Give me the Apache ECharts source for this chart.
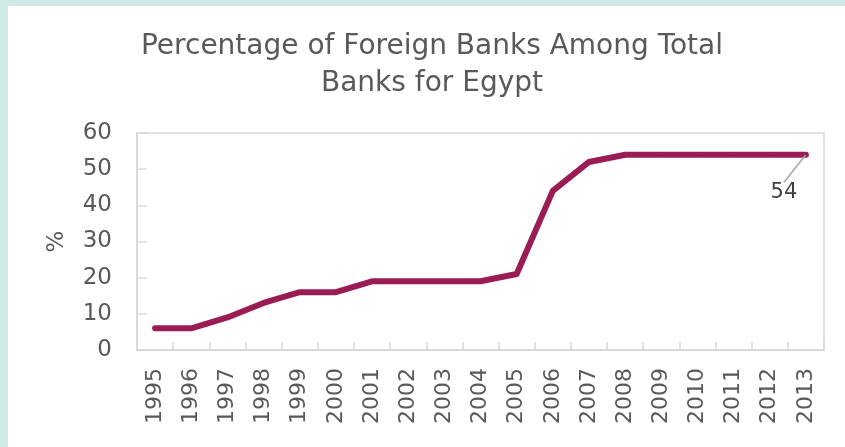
<!DOCTYPE html>
<html>
<head>
<meta charset="utf-8">
<script src="https://cdn.jsdelivr.net/npm/echarts@6/dist/echarts.min.js"></script>
<style>
  html, body { margin: 0; padding: 0; background: #d0eaea; width: 845px; height: 447px; overflow: hidden; }
  #chart { position: absolute; left: 8px; top: 6px; width: 837px; height: 441px; background: #ffffff; }
</style>
</head>
<body>
<div id="chart"></div>
<script>
const titleText = 'Percentage of Foreign Banks Among Total\nBanks for Egypt';
const years = ['1995','1996','1997','1998','1999','2000','2001','2002','2003','2004','2005','2006','2007','2008','2009','2010','2011','2012','2013'];
const foreignBankShare = [6, 6, 9, 13, 16, 16, 19, 19, 19, 19, 21, 44, 52, 54, 54, 54, 54, 54, 54];
const yTicks = { min: 0, max: 60, interval: 10 };
const yAxisName = '%';

const fontFamily = '"DejaVu Sans", "Liberation Sans", Arial, sans-serif';
const textColor = '#595959';
const lastIndex = foreignBankShare.length - 1;

const seriesData = foreignBankShare.map((v, i) => {
  if (i !== lastIndex) return v;
  return {
    value: v,
    label: {
      show: true,
      position: 'inside',
      formatter: '{c}',
      fontFamily: fontFamily,
      fontSize: 21,
      color: '#404040'
    },
    labelLine: { show: true, lineStyle: { color: '#a6a6a6', width: 1.5 } }
  };
});

const chart = echarts.init(document.getElementById('chart'), null, { renderer: 'canvas' });
chart.setOption({
  backgroundColor: '#ffffff',
  animation: false,
  title: {
    text: titleText,
    left: 424,
    top: 22,
    padding: 0,
    textAlign: 'center',
    textStyle: {
      fontFamily: fontFamily,
      fontSize: 28,
      fontWeight: 'normal',
      color: textColor,
      lineHeight: 37
    }
  },
  grid: {
    left: 129,
    top: 127,
    right: 21,
    bottom: 97,
    show: true,
    borderColor: '#d9d9d9',
    borderWidth: 1.5,
    containLabel: false
  },
  xAxis: {
    type: 'category',
    data: years,
    boundaryGap: true,
    axisLine: { show: true, lineStyle: { color: '#d9d9d9', width: 2 } },
    axisTick: { show: true, inside: true, length: 8, alignWithLabel: false, lineStyle: { color: '#d9d9d9', width: 1.5 } },
    axisLabel: {
      rotate: 90,
      margin: 18,
      interval: 0,
      fontFamily: fontFamily,
      fontSize: 22,
      color: textColor
    },
    splitLine: { show: false }
  },
  yAxis: {
    type: 'value',
    min: yTicks.min,
    max: yTicks.max,
    interval: yTicks.interval,
    name: yAxisName,
    nameLocation: 'middle',
    nameGap: 68,
    nameRotate: 90,
    nameTextStyle: { fontFamily: fontFamily, fontSize: 23, color: textColor },
    axisLine: { show: true, lineStyle: { color: '#d9d9d9', width: 2 } },
    axisTick: { show: true, inside: true, length: 10, lineStyle: { color: '#d9d9d9', width: 1.5 } },
    axisLabel: {
      margin: 25,
      fontFamily: fontFamily,
      fontSize: 23,
      color: textColor
    },
    splitLine: { show: false }
  },
  series: [{
    type: 'line',
    data: seriesData,
    showSymbol: true,
    symbol: 'circle',
    symbolSize: 1,
    itemStyle: { color: '#9b1b55' },
    lineStyle: { color: '#9b1b55', width: 6, cap: 'round', join: 'round' },
    labelLayout: { dx: -22, dy: 38 },
    emphasis: { disabled: true },
    z: 3
  }]
});
</script>
</body>
</html>
